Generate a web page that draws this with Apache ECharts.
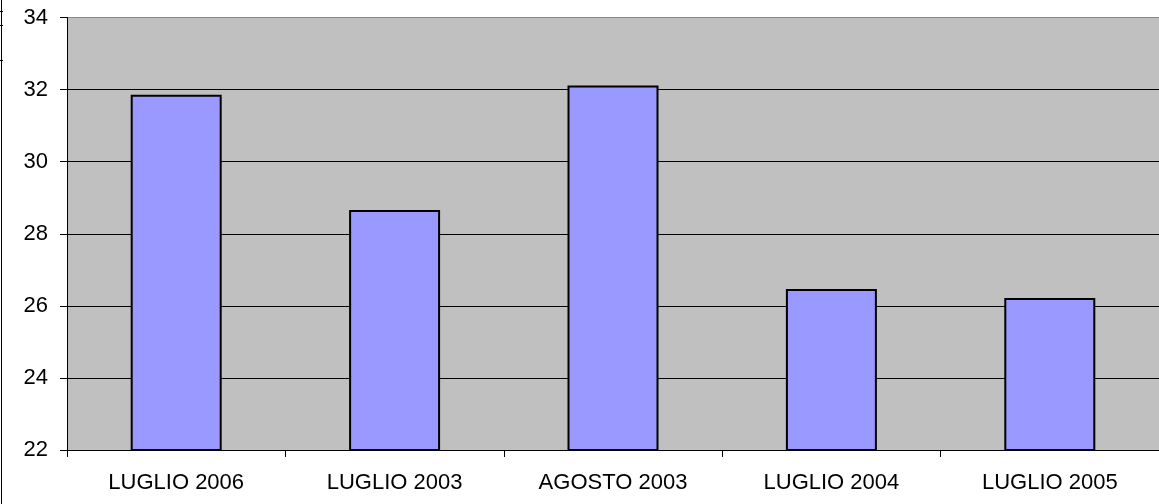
<!DOCTYPE html>
<html>
<head>
<meta charset="utf-8">
<script src="https://cdn.jsdelivr.net/npm/echarts@6/dist/echarts.min.js"></script>
<style>html,body{margin:0;padding:0;background:#fff;}#c{width:1159px;height:504px;}</style>
</head>
<body>
<div id="c"></div>
<script>
var categories = ['LUGLIO 2006', 'LUGLIO 2003', 'AGOSTO 2003', 'LUGLIO 2004', 'LUGLIO 2005'];
var values = [31.86, 28.66, 32.11, 26.47, 26.22];

var chart = echarts.init(document.getElementById('c'), null, {renderer: 'canvas'});
chart.setOption({
  animation: false,
  backgroundColor: '#ffffff',
  textStyle: {fontFamily: 'Liberation Sans, Arial, sans-serif'},
  grid: {left: 67, top: 17.5, right: 0, bottom: 54, show: true, backgroundColor: '#C0C0C0', borderWidth: 0},
  graphic: [
    {type: 'line', shape: {x1: 1.5, y1: 0, x2: 1.5, y2: 504}, style: {stroke: '#000', lineWidth: 1}},
    {type: 'line', shape: {x1: 0, y1: 11.5, x2: 3, y2: 11.5}, style: {stroke: '#000', lineWidth: 1}},
    {type: 'line', shape: {x1: 0, y1: 25.5, x2: 3, y2: 25.5}, style: {stroke: '#000', lineWidth: 1}},
    {type: 'line', shape: {x1: 0, y1: 60.5, x2: 3, y2: 60.5}, style: {stroke: '#000', lineWidth: 1}}
  ],
  xAxis: {
    type: 'category',
    data: categories,
    axisLine: {show: true, lineStyle: {color: '#000', width: 1}},
    axisTick: {show: true, alignWithLabel: false, length: 7, lineStyle: {color: '#000'}},
    axisLabel: {color: '#000', fontSize: 22, margin: 22, fontFamily: 'Liberation Sans, Arial, sans-serif'},
    splitLine: {show: false}
  },
  yAxis: {
    type: 'value',
    min: 22, max: 34, interval: 2,
    axisLine: {show: true, lineStyle: {color: '#000', width: 1}},
    axisTick: {show: true, length: 7, lineStyle: {color: '#000'}},
    axisLabel: {color: '#000', fontSize: 22, margin: 19, fontFamily: 'Liberation Sans, Arial, sans-serif'},
    splitLine: {show: true, lineStyle: {color: ['#000', '#000', '#000', '#000', '#000', '#000', '#888'], width: 1}}
  },
  series: [{
    type: 'bar',
    data: values,
    barWidth: 91,
    itemStyle: {color: '#9999FF', borderColor: '#000', borderWidth: 2}
  }]
});
</script>
</body>
</html>
